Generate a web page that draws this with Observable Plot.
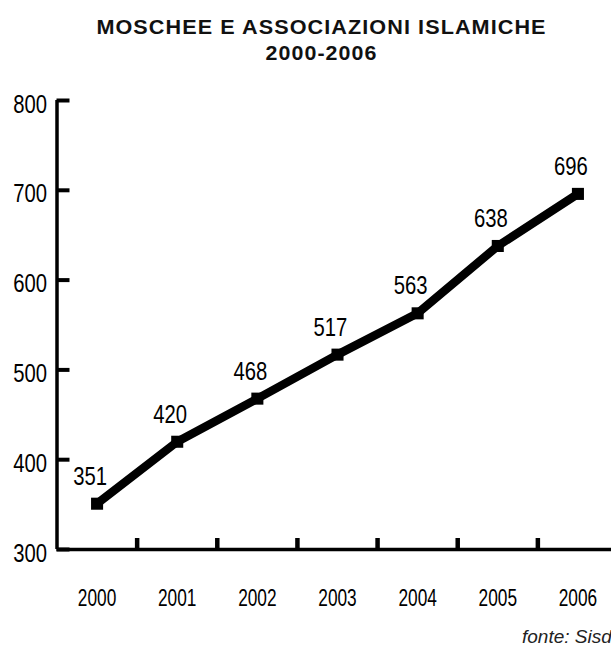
<!DOCTYPE html>
<html>
<head>
<meta charset="utf-8">
<script src="https://cdn.jsdelivr.net/npm/d3@7"></script>
<script src="https://cdn.jsdelivr.net/npm/@observablehq/plot@0.6"></script>
<style>
  body { margin: 0; background: #fff; width: 611px; height: 646px; overflow: hidden; position: relative;
         font-family: "Liberation Sans", Arial, sans-serif; }
  #head { position: relative; height: 70px; }
  .t { position: absolute; left: 16px; width: 611px; text-align: center; font-weight: bold; color: #111;
       font-size: 20px; line-height: 20px; white-space: nowrap; transform-origin: 305.5px 0; }
  #title { top: 17.4px; letter-spacing: 1px; transform: scaleX(1.08); }
  #sub { top: 42.5px; letter-spacing: 1px; transform: scaleX(1.07); }
  #chart svg { display: block; }
  #cap { position: absolute; left: 522px; top: 626.9px; font-style: italic; font-size: 19px; line-height: 19px;
         color: #222; white-space: nowrap; }
</style>
</head>
<body>
<div id="head">
  <div class="t" id="title">MOSCHEE E ASSOCIAZIONI ISLAMICHE</div>
  <div class="t" id="sub">2000-2006</div>
</div>
<div id="chart"></div>
<div id="cap">fonte: Sisd</div>
<script>
const years = [2000, 2001, 2002, 2003, 2004, 2005, 2006];
const values = [351, 420, 468, 517, 563, 638, 696];
const yTicks = [300, 400, 500, 600, 700, 800];
const boundaries = years.slice(0, -1).map(y => y + 0.5);
const data = years.map((year, i) => ({year, value: values[i]}));
const FONT = '"Liberation Sans", Arial, sans-serif';

const chart = Plot.plot({
  width: 611,
  height: 550,
  marginLeft: 56.5,
  marginTop: 30,
  marginBottom: 71,
  marginRight: 0,
  style: {background: "#fff", color: "#000", overflow: "visible"},
  x: {domain: [years[0] - 0.5, years[years.length - 1] + 0.5], range: [56.5, 617.5], label: null},
  y: {domain: [yTicks[0], yTicks[yTicks.length - 1]], range: [479, 30], label: null},
  marks: [
    Plot.ruleY([yTicks[0]], {stroke: "#000", strokeWidth: 3.5}),
    Plot.ruleX([years[0] - 0.5], {stroke: "#000", strokeWidth: 3.5}),
    Plot.axisX(boundaries, {tickSize: -11, tickFormat: () => "", strokeWidth: 4.5, stroke: "#000", label: null}),
    Plot.axisX(years, {tickSize: 0, tickPadding: 39, tickFormat: d => String(d), fontSize: 24, fontFamily: FONT, fill: "#000", label: null}),
    Plot.axisY(yTicks, {tickSize: -13, tickFormat: () => "", strokeWidth: 4, stroke: "#000", label: null}),
    Plot.axisY(yTicks, {tickSize: 0, tickPadding: 10, fontSize: 25, fontFamily: FONT, dy: 4, fill: "#000", label: null}),
    Plot.line(data, {x: "year", y: "value", stroke: "#000", strokeWidth: 8.5, strokeLinejoin: "miter"}),
    Plot.dot(data, {x: "year", y: "value", symbol: "square", r: 6.8, fill: "#000", stroke: "none"}),
    Plot.text(data, {x: "year", y: "value", text: d => String(d.value), dx: -7, dy: -27, fontSize: 25, fontFamily: FONT, fill: "#000"})
  ]
});

// condense the numeric labels horizontally (the original uses a narrow typeface)
function condense(selector, s) {
  chart.querySelectorAll(selector).forEach(t => {
    const tr = t.getAttribute("transform");
    if (tr) {
      t.setAttribute("transform", tr + ` scale(${s},1)`);
    } else {
      const x = +(t.getAttribute("x") || 0);
      t.setAttribute("x", 0);
      t.setAttribute("transform", `translate(${x},0) scale(${s},1)`);
    }
  });
}
condense('g[aria-label="x-axis tick label"] text', 0.72);
condense('g[aria-label="y-axis tick label"] text', 0.81);
condense('g[aria-label="text"] text', 0.81);

document.getElementById("chart").appendChild(chart);
</script>
</body>
</html>
